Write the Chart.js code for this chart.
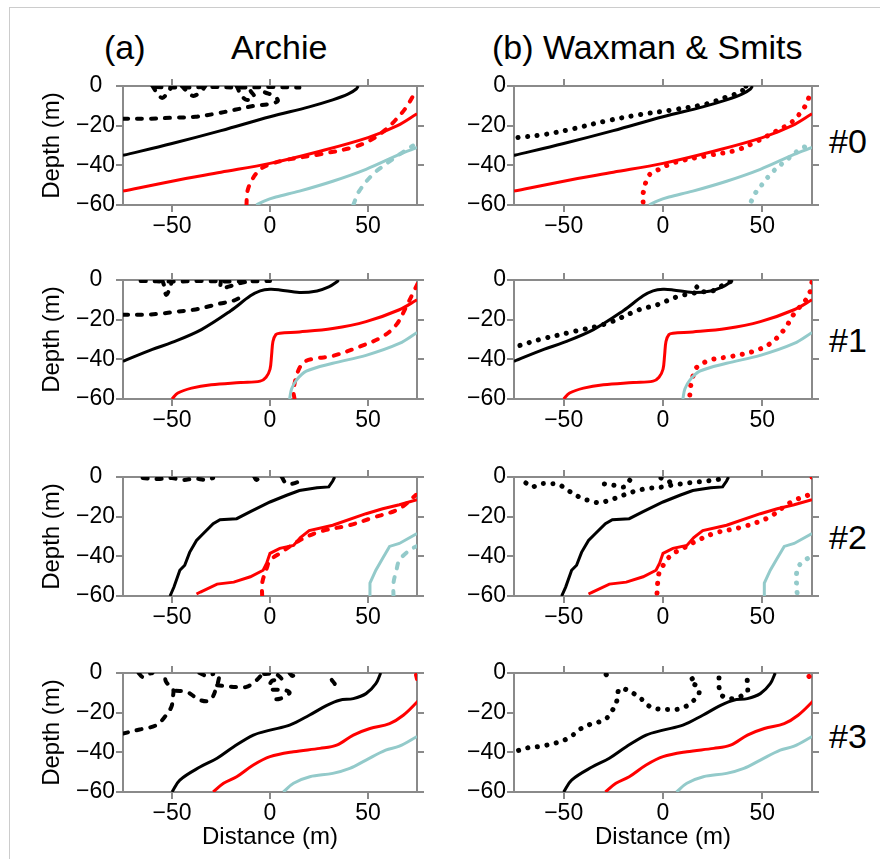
<!DOCTYPE html>
<html>
<head>
<meta charset="utf-8">
<script src="https://cdn.jsdelivr.net/npm/chart.js"></script>
<style>
  body { margin: 0; background: #fff; width: 880px; height: 859px; position: relative; overflow: hidden;
         font-family: "Liberation Sans", Arial, sans-serif; }
  .frame-top { position: absolute; left: 10px; top: 7px; width: 870px; border-top: 1.5px solid #cccccc; }
  .frame-left { position: absolute; left: 9px; top: 7px; height: 852px; border-left: 1.5px solid #cccccc; }
  .lbl { position: absolute; font-size: 34px; line-height: 34px; color: #000; white-space: nowrap; }
  canvas { position: absolute; }
</style>
</head>
<body>
<div class="frame-top"></div>
<div class="frame-left"></div>
<div class="lbl" style="left:104px;top:30px">(a)</div>
<div class="lbl" style="left:231px;top:30px">Archie</div>
<div class="lbl" style="left:492px;top:30px">(b) Waxman &amp; Smits</div>
<div class="lbl" style="left:829px;top:124px">#0</div>
<div class="lbl" style="left:829px;top:323px">#1</div>
<div class="lbl" style="left:829px;top:520px">#2</div>
<div class="lbl" style="left:829px;top:719px">#3</div>

<script>
    // axis ranges and tick labels
    const distanceRange = [-75, 75];
    const depthRange = [-60, 0];
    const distanceTicks = [-50, 0, 50];
    const depthTicks = [-60, -40, -20, 0];

    // "true" contours (solid), same in both columns, [distance, depth]
    const solidBlack0 = [[-75,-35],[-50,-29],[-25,-22.5],[0,-15.5],[20,-10.5],[32,-7],[40,-4],[44,-1.5],[45,0]];
    const solidRed0 = [[-75,-53],[-50,-48],[-25,-43.5],[0,-39],[25,-33],[50,-26],[65,-20],[75,-14]];
    const solidTeal0 = [[-7,-60],[-3,-58],[3,-56],[15,-53],[32,-48],[49,-42],[66,-34.5],[75,-31]];

    const solidBlack1 = [[-75,-41],[-60,-35],[-50,-31.5],[-35,-25],[-20,-15.5],[-10,-8],[-5,-5.5],[0,-4.7],[5,-5],[15,-6.3],[24,-5.5],[30,-3.5],[34,-1],[35,0]];
    const solidRed1 = [[-50,-60],[-47,-57],[-40,-54.5],[-30,-52.8],[-15,-51.7],[-5,-51],[-2,-49],[0,-45],[0.8,-38],[1.5,-31],[3,-27.5],[5,-26.8],[15,-26.2],[32,-24.5],[49,-21],[66,-15],[75,-10]];
    const solidTeal1 = [[10,-60],[11,-55],[13.5,-50.5],[18.5,-46],[32,-42],[49,-38],[66,-32],[75,-26.5]];

    const solidBlack2 = [[-51,-60],[-49,-55.5],[-46,-47],[-43.5,-44.5],[-41,-38],[-37.5,-32],[-34,-28.5],[-29,-23.5],[-25.5,-21.5],[-17,-21],[-10,-17.5],[0,-12.6],[8.5,-9.2],[15,-6.8],[24,-5.4],[30,-5],[32,-2],[33,0]];
    const solidRed2 = [[-37.5,-59],[-35.5,-58],[-27,-54],[-18.5,-53],[-10,-50.3],[-3.5,-47],[-1.7,-43.5],[0,-38.5],[5,-36],[12,-34.5],[15.5,-30.5],[20,-27],[32,-24.3],[49,-18.5],[57.5,-16],[66,-14],[75,-11.5]];
    const solidTeal2 = [[51,-60],[51,-53.5],[54,-47],[57.5,-41],[61,-35],[66,-33.5],[75,-28.5]];

    const solidBlack3 = [[-50,-60],[-46,-54],[-35.5,-47.3],[-27,-43],[-18.5,-37.2],[-8.5,-31.3],[0,-28.8],[10,-26.3],[20,-21.3],[29,-16.3],[35.5,-13.7],[42.5,-12.9],[49,-10.4],[54,-5.4],[56.5,0]];
    const solidRed3 = [[-29,-60],[-23.7,-55.6],[-17,-52.3],[-8.5,-46.4],[0,-42.2],[12,-39.7],[25.5,-38],[34,-36.4],[42.5,-31.3],[51,-28],[61,-25.5],[68,-21.3],[76,-13.7]];
    const solidTeal3 = [[6.8,-60],[12,-55.6],[20.3,-52.3],[32,-50.6],[40.7,-48.1],[49,-43.9],[59,-38.9],[66,-36.9],[75,-32]];

    // Archie inversion (dashed)
    const archie0BlackA = [[-75,-16.5],[-62,-16.5],[-50,-16],[-38,-15.5],[-28,-14],[-18,-12],[-8,-10],[0,-9],[4,-7.5],[2,-5],[-3,-3],[-6,-1],[-6,0]];
    const archie0BlackB = [[-60,0],[-58,-3],[-55,-6],[-52,-3],[-50,0]];
    const archie0BlackC = [[-45,0],[-42,-3],[-39,-5],[-35,-2.5],[-33,0]];
    const archie0BlackD = [[-17,0],[-15,-4],[-12,-7],[-8,-5.5],[-10,-2],[-8,0]];
    const archie0BlackE = [[-58,-0.5],[-45,-0.8],[-30,-0.5],[-15,-0.8],[0,-0.5],[15,-0.8]];
    const archie0Red = [[-12,-60],[-11.5,-53],[-9,-47],[-5,-42],[0,-39.5],[7,-37.5],[25,-34.5],[42,-31],[51,-27.5],[59,-22],[66,-15],[70,-10],[73,-5]];
    const archie0Teal = [[42.5,-60],[45.5,-53],[52.5,-44.5],[59,-39.5],[66,-34.5],[73,-30]];

    const archie1BlackA = [[-75,-17.5],[-65,-17.5],[-56,-17],[-48,-16],[-39,-15],[-32,-13.5],[-26,-12],[-19,-10.5],[-15.5,-9]];
    const archie1BlackB = [[-55,0],[-54,-3],[-53,-7.5],[-51,-4],[-50,0]];
    const archie1BlackC = [[-25,0],[-25,-4],[-20,-3],[-15,-1.5],[-10,-0.5]];
    const archie1BlackD = [[-66,-0.5],[-50,-0.8],[-35,-0.5],[-20,-0.8],[0,-0.5]];
    const archie1Red = [[12.5,-60],[12,-55.5],[14.5,-45.5],[18,-41],[24,-39.5],[32,-38.3],[46,-33.5],[57.5,-28.5],[64.5,-22.5],[69.5,-13.5],[73,-6.5],[75.5,-1.5]];

    const archie2BlackA = [[-65,-0.5],[-57,-1],[-50,-0.5],[-45,-1.5],[-38,-0.8],[-33,-1.5],[-29,-0.5]];
    const archie2BlackB = [[-8,0],[-7,-1.5],[-5,0]];
    const archie2BlackC = [[6,0],[8,-3],[11,-3.5],[15,-2],[16,0]];
    const archie2Red = [[-4,-60],[-4,-53.5],[-1.5,-45.5],[0,-42],[5,-38.5],[15,-32],[25.5,-27.5],[40.5,-24.3],[52.5,-20.5],[66,-16],[74.5,-9]];
    const archie2Teal = [[63,-60],[63,-53.5],[64.5,-47],[66,-42],[71,-37],[74.5,-35]];

    const archie3BlackA = [[-75,-30.5],[-66.5,-28.5],[-58,-26.3],[-53,-21.3],[-50.3,-17],[-49.5,-12],[-49.5,-8],[-53,-4.5],[-53.7,0]];
    const archie3BlackB = [[-67,0],[-65,-2],[-62,-0.5],[-60,0]];
    const archie3BlackC = [[-48,-9],[-42.5,-9.5],[-35.5,-13.7],[-30.5,-13.7],[-27,-6.2],[-25.5,0]];
    const archie3BlackD = [[-27,-6.2],[-18.6,-7],[-12,-7],[-7,-3.7],[-3.4,0]];
    const archie3BlackE = [[-36,0],[-32,-1.5],[-29,-0.5]];
    const archie3BlackF = [[-3,-0.5],[3,-0.5],[6,-3.5],[1,-4],[0,-8],[7,-8.5],[10,-10],[5,-13],[0,-13]];
    const archie3BlackG = [[10,0],[11.5,-1.5],[13,0]];
    const archie3BlackH = [[31.5,-3.5],[33.5,-6],[35.5,-8]];
    const archie3Red = [[74.5,-1],[75,-3]];

    // Waxman & Smits inversion (dotted)
    const wax0Black = [[-73,-26],[-60,-24.5],[-45,-21.5],[-28,-17.5],[-12,-14.5],[5,-12],[22,-9],[32,-5.5],[40,-2.5],[39,-0.5],[44,0]];
    const wax0Red = [[-10,-58.5],[-10,-54],[-7,-45],[-2,-42],[6,-38.5],[23,-35],[36.5,-32.5],[45,-29],[56.5,-23],[65,-18],[71,-11],[73,-7],[74,-3]];
    const wax0Teal = [[44.5,-58],[46.5,-54],[50,-49.5],[55,-43.5],[62,-37.5],[69.5,-31.5],[74,-30]];

    const wax1BlackA = [[-72,-33],[-62,-30],[-45,-26],[-28.5,-22],[-12,-15],[-3,-12.5],[7,-8.5],[15,-6.7],[20,-6],[24,-5.8],[28,-4],[31,-2],[34,-0.8],[37,-0.8]];
    const wax1BlackB = [[17,-3.5],[17.1,-3.6]];
    const wax1Red = [[13.5,-58],[14,-53],[15,-48.7],[17,-44],[24,-40.3],[34,-38.6],[45.5,-36],[54,-32],[61,-25],[66,-17],[72.5,-9.2],[74.3,-5],[75,-0.8]];

    const wax2BlackA = [[-69,-3],[-66,-5],[-61.5,-3.4],[-56.5,-3.4],[-52.5,-3.7],[-48,-6.7],[-40.5,-10.9],[-36.5,-12],[-32,-13],[-27,-11.7],[-22,-10],[-18,-8.4],[-13.5,-7],[-8.5,-5.9],[0,-5],[4,-4.2],[12.5,-3],[17.5,-2.5],[22.5,-2],[27.5,-1.3],[32,0]];
    const wax2BlackB = [[-29.5,-3.5],[-24,-4.3],[-19.5,-5],[-17,-2],[-16,-0.5]];
    const wax2BlackC = [[-1,-0.5],[3,-2.5],[5,-1]];
    const wax2Red = [[-3,-58.5],[-2.7,-53.5],[-2,-48.5],[0.7,-43.5],[2.5,-41],[5.7,-38.2],[9,-36.6],[16,-32.7],[26,-28.3],[39.5,-25.3],[53,-20.5],[64.5,-12.6],[73,-9.2],[75.5,-8.4]];
    const wax2RedB = [[75,0],[75,-2]];
    const wax2Teal = [[67.5,-58.3],[67.2,-53.6],[67.2,-49],[68,-45.3],[71.4,-42],[75.5,-39.5]];

    const wax3BlackA = [[-72.7,-39],[-67,-37.5],[-62,-37],[-53.7,-35.2],[-47,-32.5],[-42,-28.5],[-37,-26],[-32,-24.6],[-28.6,-23],[-26,-19.6],[-23.6,-15.4],[-21.9,-7.9],[-17.7,-8.7],[-13.5,-11.2],[-10.2,-13.7],[-6.8,-16.8],[-1.8,-18.3],[2.4,-18.4],[7.4,-18.3],[11.6,-16.8],[15,-14.2],[18,-10.9],[17.5,-7],[13.6,-4.2],[18.2,-0.8]];
    const wax3BlackB = [[-28.6,-0.8],[-28.5,-0.9]];
    const wax3BlackC = [[28.2,-2.5],[28.2,-6.7],[29,-10.7],[33.2,-12.9],[38.2,-12.1],[42.4,-9.5],[42.4,-5.9],[42.4,-1.5]];
    const wax3Red = [[73.5,-1.7],[73.6,-1.8]];

    const BLACK = '#000000', RED = '#ff0000', TEAL = '#93caca', AXIS = '#8a8a8a';

    const solidRows = [
        [solidBlack0, solidRed0, solidTeal0],
        [solidBlack1, solidRed1, solidTeal1],
        [solidBlack2, solidRed2, solidTeal2],
        [solidBlack3, solidRed3, solidTeal3]
    ];
    const archieRows = [
        { black: [archie0BlackA, archie0BlackB, archie0BlackC, archie0BlackD, archie0BlackE], red: [archie0Red], teal: [archie0Teal] },
        { black: [archie1BlackA, archie1BlackB, archie1BlackC, archie1BlackD], red: [archie1Red], teal: [] },
        { black: [archie2BlackA, archie2BlackB, archie2BlackC], red: [archie2Red], teal: [archie2Teal] },
        { black: [archie3BlackA, archie3BlackB, archie3BlackC, archie3BlackD, archie3BlackE, archie3BlackF, archie3BlackG, archie3BlackH], red: [archie3Red], teal: [] }
    ];
    const waxRows = [
        { black: [wax0Black], red: [wax0Red], teal: [wax0Teal] },
        { black: [wax1BlackA, wax1BlackB], red: [wax1Red], teal: [] },
        { black: [wax2BlackA, wax2BlackB, wax2BlackC], red: [wax2Red, wax2RedB], teal: [wax2Teal] },
        { black: [wax3BlackA, wax3BlackB, wax3BlackC], red: [wax3Red], teal: [] }
    ];

    // panel placement (plot area, page pixels)
    const rowTop = [86, 280, 477, 673];
    const rowBottom = [205, 399, 596, 792];
    const colCanvasLeft = [14, 444];
    const colPlotLeft = [123, 514];
    const colPlotRight = [417, 812];
    const TOP_H = 20, RIGHT_W = 15;

    Chart.defaults.font.family = "'Liberation Sans', Arial, sans-serif";
    Chart.defaults.color = '#000';

    function series(points, color, style, tension) {
        const ds = {
            data: points.map(p => ({ x: p[0], y: p[1] })),
            borderColor: color,
            showLine: true,
            pointRadius: 0,
            fill: false,
            tension: tension,
            clip: 0
        };
        if (style === 'dash') {
            ds.borderWidth = 4; ds.borderDash = [5, 9]; ds.borderCapStyle = 'round';
        } else if (style === 'dot') {
            ds.borderWidth = 5; ds.borderDash = [0.1, 9.5]; ds.borderCapStyle = 'round';
        } else {
            ds.borderWidth = 3;
        }
        return ds;
    }

    function fixedTicks(values) {
        return scale => { scale.ticks = values.map(v => ({ value: v })); };
    }

    // tick labels use a typographic minus, as in the figure
    function tickText(v) {
        return v < 0 ? '\u2212' + Math.abs(v) : String(v);
    }

    const gridOpts = { drawOnChartArea: false, drawTicks: true, tickLength: 7, color: AXIS, lineWidth: 2 };
    const borderOpts = { display: true, color: AXIS, width: 2 };
    const tickFont = { size: 23 };

    function makePanel(row, col) {
        const tension = row === 2 ? 0 : 0.35;
        const datasets = [];
        const colors = [BLACK, RED, TEAL];
        solidRows[row].forEach((pts, i) => datasets.push(series(pts, colors[i], 'solid', tension)));
        const inv = col === 0 ? archieRows[row] : waxRows[row];
        const style = col === 0 ? 'dash' : 'dot';
        inv.black.forEach(pts => datasets.push(series(pts, BLACK, style, 0.35)));
        inv.red.forEach(pts => datasets.push(series(pts, RED, style, 0.35)));
        inv.teal.forEach(pts => datasets.push(series(pts, TEAL, style, 0.35)));

        const bottomH = row === 3 ? 62 : 42;
        const leftW = colPlotLeft[col] - colCanvasLeft[col];
        const width = leftW + (colPlotRight[col] - colPlotLeft[col]) + RIGHT_W;
        const height = TOP_H + (rowBottom[row] - rowTop[row]) + bottomH;

        const canvas = document.createElement('canvas');
        canvas.width = width;
        canvas.height = height;
        canvas.style.left = colCanvasLeft[col] + 'px';
        canvas.style.top = (rowTop[row] - TOP_H) + 'px';
        canvas.style.width = width + 'px';
        canvas.style.height = height + 'px';
        document.body.appendChild(canvas);

        new Chart(canvas.getContext('2d'), {
            type: 'scatter',
            data: { datasets: datasets },
            options: {
                responsive: false,
                animation: false,
                layout: { padding: 0 },
                plugins: { legend: { display: false }, tooltip: { enabled: false } },
                scales: {
                    x: {
                        type: 'linear', position: 'bottom',
                        min: distanceRange[0], max: distanceRange[1],
                        afterBuildTicks: fixedTicks(distanceTicks),
                        afterFit: s => { s.height = bottomH; },
                        grid: gridOpts, border: borderOpts,
                        ticks: { font: tickFont, padding: 1, maxRotation: 0, autoSkip: false, callback: tickText },
                        title: { display: row === 3, text: 'Distance (m)', font: { size: 24 }, padding: { top: 0, bottom: 2 } }
                    },
                    xTop: {
                        type: 'linear', position: 'top', axis: 'x',
                        min: distanceRange[0], max: distanceRange[1],
                        afterBuildTicks: fixedTicks(distanceTicks),
                        afterFit: s => { s.height = TOP_H; },
                        grid: gridOpts, border: borderOpts,
                        ticks: { display: false }
                    },
                    y: {
                        type: 'linear', position: 'left',
                        min: depthRange[0], max: depthRange[1],
                        afterBuildTicks: fixedTicks(depthTicks),
                        afterFit: s => { s.width = leftW; },
                        grid: gridOpts, border: borderOpts,
                        ticks: {
                            font: tickFont, padding: 1,
                            callback: v => (col === 0 && v === 0) ? '0  ' : tickText(v)
                        },
                        title: { display: col === 0, text: 'Depth (m)', font: { size: 24 }, padding: { top: 24, bottom: 0 } }
                    },
                    yRight: {
                        type: 'linear', position: 'right', axis: 'y',
                        min: depthRange[0], max: depthRange[1],
                        afterBuildTicks: fixedTicks(depthTicks),
                        afterFit: s => { s.width = RIGHT_W; },
                        grid: gridOpts, border: borderOpts,
                        ticks: { display: false }
                    }
                }
            }
        });
    }

    for (let r = 0; r < 4; r++) {
        makePanel(r, 0);
        makePanel(r, 1);
    }
</script>
</body>
</html>
